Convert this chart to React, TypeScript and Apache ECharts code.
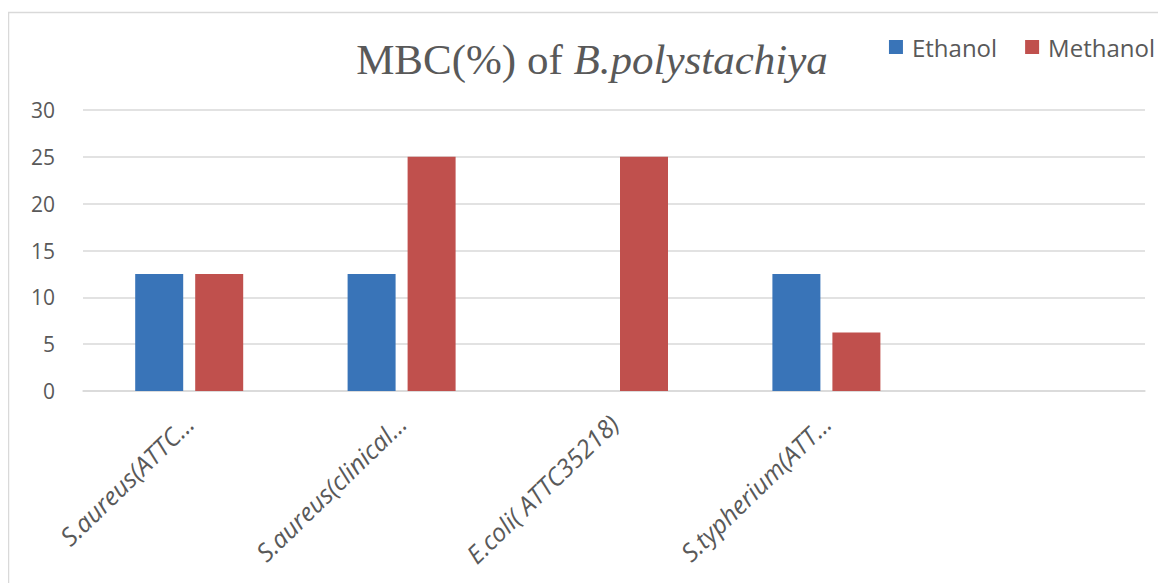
import React, { useEffect, useRef } from "react";
import * as echarts from "echarts";

const categories = ["S.aureus(ATTC…", "S.aureus(clinical…", "E.coli( ATTC35218)", "S.typherium(ATT…", ""];
const ethanol = [12.5, 12.5, null, 12.5, null];
const methanol = [12.5, 25, 25, 6.25, null];
const seriesNames = ["Ethanol", "Methanol"];
const yTicks = { min: 0, max: 30, interval: 5 };

export default function App() {
  const ref = useRef<HTMLDivElement>(null);
  useEffect(() => {
    if (!ref.current) return;
    const chart = echarts.init(ref.current, null, { renderer: "svg" });
    chart.setOption({
      animation: false,
      backgroundColor: "#ffffff",
      graphic: [
        {
          type: "rect",
          shape: { x: 0.5, y: 4.5, width: 1300, height: 700 },
          style: { fill: "none", stroke: "#d9d9d9", lineWidth: 1.5 },
          silent: true,
        },
      ],
      title: {
        text: "{r|MBC(%) of }{i|B.polystachiya}",
        left: 579,
        textAlign: "center",
        top: 25,
        textStyle: {
          fontWeight: "normal",
          rich: {
            r: { fontFamily: "Liberation Serif", fontSize: 43, fontWeight: "normal", color: "#595959" },
            i: { fontFamily: "Liberation Serif", fontSize: 43, fontWeight: "normal", fontStyle: "italic", color: "#595959" },
          },
        },
      },
      legend: {
        data: seriesNames,
        right: 6,
        top: 22,
        itemWidth: 14,
        itemHeight: 14,
        itemGap: 28,
        icon: "rect",
        textStyle: { fontFamily: "Open Sans", fontSize: 24, color: "#595959", padding: [0, 0, 0, 4] },
      },
      grid: { left: 75, right: 21, top: 102, bottom: 192, containLabel: false },
      xAxis: {
        type: "category",
        data: categories,
        axisLine: { lineStyle: { color: "#d9d9d9", width: 1.5 } },
        axisTick: { show: false },
        axisLabel: {
          interval: 0,
          rotate: 44,
          margin: 28,
          fontFamily: "Open Sans",
          fontStyle: "italic",
          fontSize: 25,
          color: "#595959",
        },
      },
      yAxis: {
        type: "value",
        min: yTicks.min,
        max: yTicks.max,
        interval: yTicks.interval,
        axisLine: { show: false },
        axisTick: { show: false },
        splitLine: { lineStyle: { color: "#d9d9d9", width: 1.5 } },
        axisLabel: { fontFamily: "Open Sans", fontSize: 21, color: "#595959", margin: 28 },
      },
      series: [
        {
          name: seriesNames[0],
          type: "bar",
          data: ethanol,
          barWidth: 48,
          barGap: "25%",
          itemStyle: { color: "#3974B8" },
        },
        {
          name: seriesNames[1],
          type: "bar",
          data: methanol,
          barWidth: 48,
          barGap: "25%",
          itemStyle: { color: "#C0504D" },
        },
      ],
    });
    return () => chart.dispose();
  }, []);
  return <div ref={ref} style={{ width: 1158, height: 575 }} />;
}
